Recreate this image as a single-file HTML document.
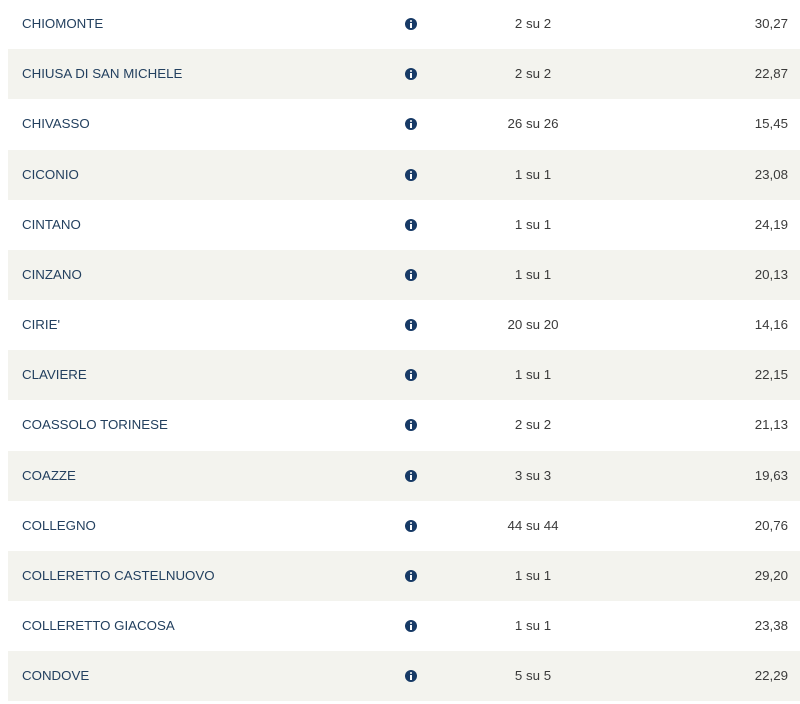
<!DOCTYPE html>
<html><head><meta charset="utf-8"><style>
html,body{margin:0;padding:0;background:#fff;width:800px;height:704px;overflow:hidden}
body{position:relative;font-family:"Liberation Sans",sans-serif}
.r{position:absolute;left:8px;width:792px;height:50.15px}
.g{background:#f3f3ee}
.n{position:absolute;left:14px;top:0;line-height:50px;font-size:13.3px;color:#23405f;white-space:nowrap}
.i{position:absolute;left:397px;top:19px;width:12px;height:12px;border-radius:50%;background:#173a66}
.i:before{content:"";position:absolute;left:5px;top:2px;width:2px;height:2px;background:#fff;border-radius:1px}
.i:after{content:"";position:absolute;left:5px;top:5px;width:2px;height:5px;background:#fff}
.c{position:absolute;left:465px;width:120px;text-align:center;line-height:50px;font-size:13.3px;color:#3a3a3a}
.v{position:absolute;right:12px;line-height:50px;font-size:13.3px;color:#3a3a3a}
</style></head><body>
<div class="r" style="top:-1.5px"><span class="n">CHIOMONTE</span><span class="i"></span><span class="c">2 su 2</span><span class="v">30,27</span></div>
<div class="r g" style="top:49.3px"><span class="n">CHIUSA DI SAN MICHELE</span><span class="i"></span><span class="c">2 su 2</span><span class="v">22,87</span></div>
<div class="r" style="top:99.45px"><span class="n">CHIVASSO</span><span class="i"></span><span class="c">26 su 26</span><span class="v">15,45</span></div>
<div class="r g" style="top:149.6px"><span class="n">CICONIO</span><span class="i"></span><span class="c">1 su 1</span><span class="v">23,08</span></div>
<div class="r" style="top:199.75px"><span class="n">CINTANO</span><span class="i"></span><span class="c">1 su 1</span><span class="v">24,19</span></div>
<div class="r g" style="top:249.9px"><span class="n">CINZANO</span><span class="i"></span><span class="c">1 su 1</span><span class="v">20,13</span></div>
<div class="r" style="top:300.05px"><span class="n">CIRIE'</span><span class="i"></span><span class="c">20 su 20</span><span class="v">14,16</span></div>
<div class="r g" style="top:350.2px"><span class="n">CLAVIERE</span><span class="i"></span><span class="c">1 su 1</span><span class="v">22,15</span></div>
<div class="r" style="top:400.35px"><span class="n">COASSOLO TORINESE</span><span class="i"></span><span class="c">2 su 2</span><span class="v">21,13</span></div>
<div class="r g" style="top:450.5px"><span class="n">COAZZE</span><span class="i"></span><span class="c">3 su 3</span><span class="v">19,63</span></div>
<div class="r" style="top:500.65px"><span class="n">COLLEGNO</span><span class="i"></span><span class="c">44 su 44</span><span class="v">20,76</span></div>
<div class="r g" style="top:550.8px"><span class="n">COLLERETTO CASTELNUOVO</span><span class="i"></span><span class="c">1 su 1</span><span class="v">29,20</span></div>
<div class="r" style="top:600.95px"><span class="n">COLLERETTO GIACOSA</span><span class="i"></span><span class="c">1 su 1</span><span class="v">23,38</span></div>
<div class="r g" style="top:651.1px"><span class="n">CONDOVE</span><span class="i"></span><span class="c">5 su 5</span><span class="v">22,29</span></div>
</body></html>
